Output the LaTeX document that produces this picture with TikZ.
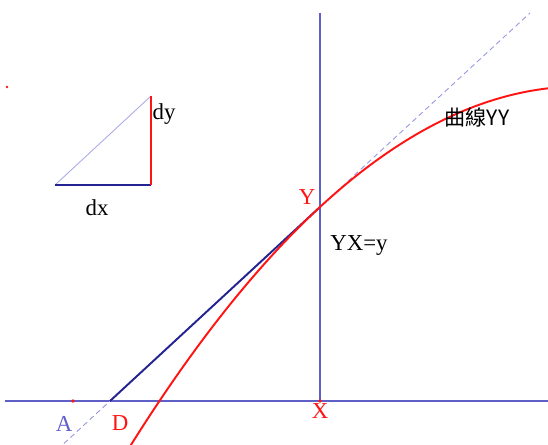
\documentclass[tikz,border=0pt]{standalone}
\usepackage{fontspec}
\setmainfont{Liberation Serif}
\newfontfamily\cjkfont{Noto Sans CJK SC}
\usetikzlibrary{calc}
\begin{document}
\begin{tikzpicture}[x=0.02cm, y=-0.02cm]
  % Colors
  \definecolor{axiscol}{RGB}{95,95,200}
  \definecolor{tancol}{RGB}{35,35,145}
  \definecolor{dashcol}{RGB}{150,150,225}
  \definecolor{curvecol}{RGB}{255,20,20}
  %
  \tikzset{
    axis/.style={draw=axiscol, line width=0.6pt},
    tangent/.style={draw=tancol, line width=1.1pt},
    guide/.style={draw=dashcol, line width=0.5pt, dash pattern=on 3pt off 2pt},
    curve/.style={draw=curvecol, line width=1.1pt},
    lbl/.style={inner sep=0pt, font=\fontsize{13}{15}\selectfont},
    pt/.style={fill=curvecol, inner sep=0pt, minimum size=2.2pt, circle},
  }
  %
  \useasboundingbox (0,0) rectangle (548,445);
  %
  % === POINTS ===
  \coordinate (axL) at (5,401);
  \coordinate (axR) at (548,401);
  \coordinate (vtop) at (320,13);
  \coordinate (X) at (320,401);
  \coordinate (Y) at (320,207);
  \coordinate (D) at (110,401);
  \coordinate (A) at (73,401);
  %
  % === AXES ===
  \draw[axis] (axL) -- (axR);
  \draw[axis] (vtop) -- (X);
  %
  % === TANGENT (dashed extension + solid part) ===
  \draw[guide] ($(D)!-0.25!(Y)$) -- ($(D)!2.0!(Y)$);
  \draw[tangent] (D) -- (Y);
  %
  % === CURVE YY ===
  \begin{scope}
    \clip (0,0) rectangle (548,445);
    \draw[curve, domain=-1.9:2.3, samples=60, smooth]
      plot ({320+100*\x}, {207-92.4*\x+17.7*\x*\x});
  \end{scope}
  %
  % === SMALL MARKS ===
  \node[pt] (ptA) at (A) {};
  \node[pt] (ptX) at (X) {};
  \node[pt, minimum size=1.6pt] (ptO) at (7,87) {};
  %
  % === dx / dy TRIANGLE ===
  \coordinate (t1) at (55,185);
  \coordinate (t2) at (151,185);
  \coordinate (t3) at (151,96);
  \draw[draw=dashcol!80, line width=0.5pt] (t1) -- (t3);
  \draw[tangent, line width=1.4pt] (t1) -- (t2);
  \draw[curve, line width=1.4pt] (t2) -- (t3);
  %
  % === LABELS ===
  \node[lbl, text=curvecol] (lY) at (307,197) {Y};
  \node[lbl, text=axiscol] (lA) at (64,424) {A};
  \node[lbl, text=curvecol] (lD) at (120,423) {D};
  \node[lbl, text=curvecol] (lX) at (320,411) {X};
  \node[lbl] (ldy) at (164,114) {dy};
  \node[lbl] (ldx) at (97,208) {dx};
  \node[lbl] (lyx) at (359,245) {YX=y};
  \node[inner sep=0pt, font=\cjkfont\fontsize{12}{14}\selectfont] (lcurve) at (477,117) {曲線YY};
  %
\end{tikzpicture}
\end{document}
